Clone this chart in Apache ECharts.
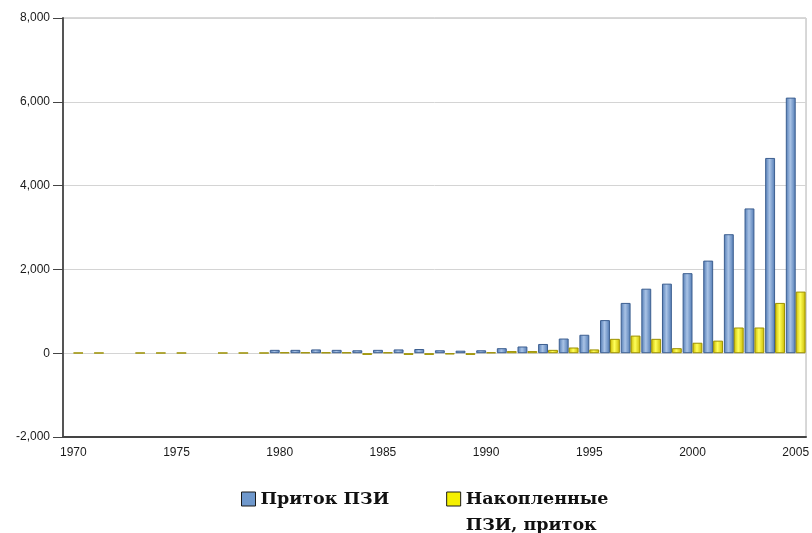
<!DOCTYPE html>
<html>
<head>
<meta charset="utf-8">
<title>Приток ПЗИ</title>
<script src="https://cdn.jsdelivr.net/npm/echarts/dist/echarts.min.js"></script>
<style>
html, body { margin: 0; padding: 0; background: #fff; }
#chart { width: 812px; height: 533px; }
</style>
</head>
<body>
<div id="chart"></div>
<script>
var years = ['1970','1971','1972','1973','1974','1975','1976','1977','1978','1979',
	'1980','1981','1982','1983','1984','1985','1986','1987','1988','1989',
	'1990','1991','1992','1993','1994','1995','1996','1997','1998','1999',
	'2000','2001','2002','2003','2004','2005']

var inflow = [null,null,null,null,null,null,null,null,null,null,
	80,80,90,80,70,80,90,100,70,60,
	70,120,160,220,350,440,790,1200,1540,1660,
	1910,2210,2840,3455,4660,6100]

var accumulated = [10,10,null,10,10,10,null,10,10,10,
	20,20,20,20,-40,20,-40,-40,-30,-40,
	20,50,50,80,136,90,343,420,343,120,
	250,300,613,613,1200,1470]

var yTicks = { min: -2000, max: 8000, step: 2000 }

var seriesNames = ['Приток ПЗИ', 'Накопленные ПЗИ, приток']

function cylinder(edge, mid) {
	return new echarts.graphic.LinearGradient(0, 0, 1, 0, [
		{ offset: 0, color: edge },
		{ offset: 0.45, color: mid },
		{ offset: 1, color: edge }
	])
}

// legend text is centred on its icon, so the long name gets an empty
// first line: the icon then sits next to "Накопленные"
function legendLabel(name) {
	if (name.indexOf('Накопленные ') === 0) {
		return '\u00a0\n' + name.replace('Накопленные ', 'Накопленные\n')
	}
	return name
}

window.onload = function() {
	var chart = echarts.init(document.getElementById('chart'), null, { renderer: 'canvas' })

	var option = {
		animation: false,
		backgroundColor: '#fff',
		grid: {
			left: 63, right: 2, top: 18, bottom: 96,
			show: true, borderColor: '#b0b0b0', borderWidth: 1
		},
		legend: {
			left: 236, top: 455,
			itemWidth: 14, itemHeight: 14, itemGap: 57,
			icon: 'rect',
			selectedMode: false,
			formatter: legendLabel,
			textStyle: {
				fontFamily: '"DejaVu Serif", serif',
				fontWeight: 'bold', fontSize: 17.5, color: '#111',
				lineHeight: 26
			},
			data: [
				{ name: seriesNames[0], itemStyle: { color: '#6f98cc', borderColor: '#1a1a1a', borderWidth: 1 } },
				{ name: seriesNames[1], itemStyle: { color: '#f5f000', borderColor: '#1a1a1a', borderWidth: 1 } }
			]
		},
		xAxis: {
			type: 'category',
			data: years,
			axisLine: { onZero: false, lineStyle: { color: '#444', width: 2 } },
			axisTick: { show: false },
			axisLabel: {
				interval: 4, margin: 10,
				fontFamily: 'Arial, "Liberation Sans", sans-serif',
				fontSize: 12, color: '#1a1a1a'
			},
			splitLine: { show: false }
		},
		yAxis: {
			type: 'value',
			min: yTicks.min, max: yTicks.max, interval: yTicks.step,
			axisLine: { show: true, lineStyle: { color: '#555', width: 2 } },
			axisTick: { show: true, length: 10, lineStyle: { color: '#444' } },
			axisLabel: {
				margin: 13,
				fontFamily: 'Arial, "Liberation Sans", sans-serif',
				fontSize: 12, color: '#1a1a1a',
				formatter: function(v) { return v.toLocaleString('en-US') }
			},
			splitLine: { lineStyle: { color: '#d4d4d4', width: 1 } }
		},
		series: [
			{
				name: seriesNames[0],
				type: 'bar',
				data: inflow,
				barGap: '0%',
				barCategoryGap: '4%',
				itemStyle: {
					color: cylinder('#4f79b3', '#a9c3e6'),
					borderColor: '#3d5f90', borderWidth: 1
				}
			},
			{
				name: seriesNames[1],
				type: 'bar',
				data: accumulated,
				barGap: '0%',
				barCategoryGap: '4%',
				itemStyle: {
					color: cylinder('#c9b800', '#ffff5a'),
					borderColor: '#9c9000', borderWidth: 1
				}
			}
		]
	}

	chart.setOption(option)
}
</script>
</body>
</html>
